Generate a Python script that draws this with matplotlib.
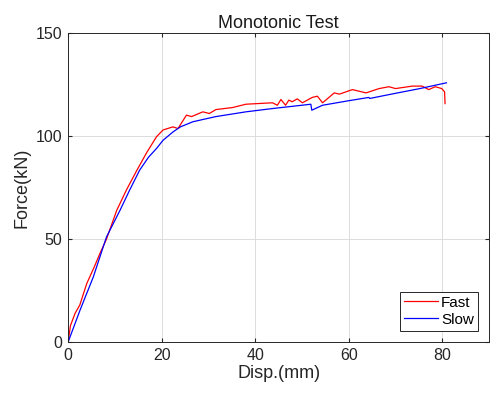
import numpy as np
import matplotlib
matplotlib.use("Agg")
import matplotlib.pyplot as plt

# Fast test (red)
fast_disp = [0, 0.5, 1.5, 2.5, 4.0, 5.5, 6.8, 8.2, 10.4, 12.5, 14.6, 16.8, 18.9, 20.3,
             22.4, 23.5, 25.3, 26.4, 28.8, 30.2, 31.6, 35.2, 38.0, 43.7, 44.75, 45.5,
             46.5, 47.2, 47.9, 49.0, 50.1, 52.2, 53.3, 54.4, 55.1, 56.9, 58.0, 60.8,
             63.7, 66.5, 68.6, 70.0, 73.6, 75.7, 77.1, 78.5, 79.9, 80.5, 80.6]
fast_force = [0, 8, 14, 18, 28.5, 36, 43, 50, 64, 74, 83, 92, 99.7, 103,
              104.5, 103.7, 110.2, 109.5, 111.8, 111, 112.9, 113.9, 115.5, 116.2, 115.0, 117.8,
              115.0, 117.5, 116.7, 118.1, 116.2, 118.8, 119.4, 116.2, 117.5, 121.0, 120.4, 122.6,
              121.0, 123.1, 124.0, 123.1, 124.3, 124.3, 122.6, 124.0, 123.1, 121.5, 115.8]

# Slow test (blue)
slow_disp = [0, 2.55, 5.4, 8.2, 11.1, 13.2, 15.3, 17.2, 18.9, 20.3, 22.4, 24.0, 26.7,
             31.6, 38.0, 43.7, 51.9, 52.1, 54.4, 60.0, 64.3, 64.5, 70.0, 75.0, 80.9]
slow_force = [0, 15.5, 31.7, 51, 64, 74, 83.5, 89.8, 94, 98, 102, 104.5, 107,
              109.5, 111.8, 113.4, 115.5, 112.6, 115, 117.2, 118.8, 118.3, 120.8, 123.0, 125.9]

plt.rcParams['font.family'] = ['Liberation Sans', 'DejaVu Sans']
fig = plt.figure(figsize=(4.9, 3.95), dpi=100)
ax = fig.add_axes([0.139, 0.134, 0.859, 0.782])

ax.plot(fast_disp, fast_force, color='red', lw=0.9, label='Fast')
ax.plot(slow_disp, slow_force, color='blue', lw=0.9, label='Slow')

ax.set_xlim(0, 90)
ax.set_ylim(0, 150)
ax.set_xticks([0, 20, 40, 60, 80])
ax.set_yticks([0, 50, 100, 150])
ax.grid(True, color='#dcdcdc', lw=0.7)
ax.set_axisbelow(True)
ax.tick_params(direction='in', length=3, labelsize=11.5, colors='#262626', top=True, right=True,
               labeltop=False, labelright=False, pad=4)
for s in ax.spines.values():
    s.set_color('#262626')
    s.set_linewidth(0.7)

ax.set_title('Monotonic Test', fontsize=13, color='#1a1a1a', pad=4)
ax.set_xlabel('Disp.(mm)', fontsize=13, color='#262626', labelpad=2)
ax.set_ylabel('Force(kN)', fontsize=13, color='#262626', labelpad=4)

leg = ax.legend(loc='lower right', fontsize=11, fancybox=False, edgecolor='#262626',
                framealpha=1, handlelength=2.2, borderpad=0.25, labelspacing=0.2,
                handletextpad=0.2, borderaxespad=0.75)
leg.get_frame().set_linewidth(0.7)

fig.savefig('out.png', dpi=100)
